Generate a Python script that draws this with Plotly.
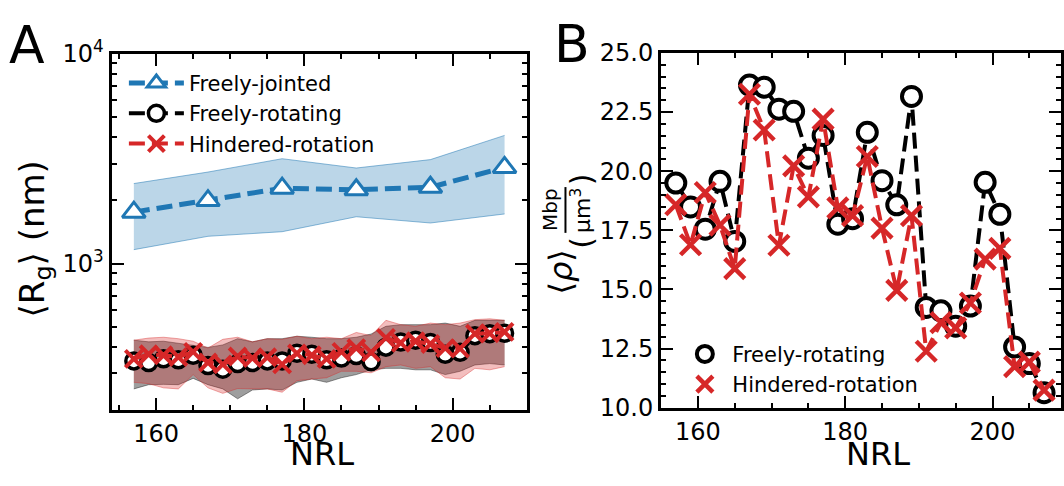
import math
import plotly.graph_objects as go

# ---------------- data ----------------
nrl_fj = [157, 167, 177, 187, 197, 207]
rg_fj = [1760, 1997, 2288, 2249, 2312, 2874]
rg_fj_hi = [2408, 2732, 3162, 2855, 3131, 4083]
rg_fj_lo = [1166, 1350, 1420, 1673, 1562, 1725]

nrl = [157, 159, 161, 163, 165, 167, 169, 171, 173, 175, 177, 179, 181,
       183, 185, 187, 189, 191, 193, 195, 197, 199, 201, 203, 205, 207]

rg_fr = [344, 338, 352, 348, 366, 327, 314, 334, 338, 344, 344, 374, 370,
         348, 355, 365, 341, 400, 423, 432, 421, 370, 378, 454, 464, 466]
rg_fr_hi = [432, 424, 427, 417, 410, 399, 410, 439, 424, 439, 439, 451, 446,
            439, 439, 446, 462, 503, 512, 512, 512, 521, 503, 537, 537, 537]
rg_fr_lo = [253, 265, 266, 265, 284, 265, 253, 227, 250, 253, 250, 272, 282,
            272, 286, 296, 312, 317, 317, 312, 312, 296, 307, 329, 334, 329]

rg_hr = [352, 370, 366, 359, 380, 338, 331, 361, 355, 358, 331, 374, 366,
         352, 380, 396, 378, 443, 419, 427, 414, 396, 394, 464, 466, 473]
rg_hr_hi = [432, 442, 446, 439, 427, 396, 436, 446, 424, 439, 436, 451, 439,
            446, 439, 470, 454, 537, 512, 503, 521, 512, 521, 541, 546, 537]
rg_hr_lo = [272, 268, 256, 253, 296, 256, 241, 254, 253, 253, 244, 277, 282,
            286, 307, 307, 302, 323, 329, 317, 323, 286, 282, 317, 312, 323]

rho_fr = [19.50, 18.49, 17.55, 19.57, 17.03, 23.64, 23.55, 22.62, 22.53, 20.55,
          21.51, 17.76, 17.99, 21.64, 19.60, 18.58, 23.16, 14.24, 14.10, 13.45,
          14.30, 19.53, 18.18, 12.57, 11.87, 10.64]
rho_hr = [18.58, 16.89, 19.10, 17.72, 15.88, 23.25, 21.74, 16.87, 20.22, 18.91,
          22.20, 18.45, 18.12, 20.62, 17.59, 14.96, 18.12, 12.39, 13.60, 13.38,
          14.43, 16.28, 16.74, 11.74, 11.93, 10.75]

x_ticks = [160, 180, 200]
rg_ticks = [1000, 10000]
rg_ticktext = ["10<sup>3</sup>", "10<sup>4</sup>"]
rg_minor = [200, 300, 400, 500, 600, 700, 800, 900,
            2000, 3000, 4000, 5000, 6000, 7000, 8000, 9000]

# ---------------- style ----------------
FONT = "DejaVu Sans"
BLUE = "#1f77b4"
RED = "#d62728"
BLACK = "#000000"
W, H = 1064, 486


def px(xp):
    return xp / W


def py(yp):
    return 1 - yp / H


fig = go.Figure()


def band(x, lo, hi, fill, edge, xa, ya):
    fig.add_trace(go.Scatter(x=x, y=hi, mode="lines", line=dict(color=edge, width=1),
                             showlegend=False, hoverinfo="skip", xaxis=xa, yaxis=ya))
    fig.add_trace(go.Scatter(x=x, y=lo, mode="lines", line=dict(color=edge, width=1),
                             fill="tonexty", fillcolor=fill,
                             showlegend=False, hoverinfo="skip", xaxis=xa, yaxis=ya))


DASH = "16px,7px"

# Panel A
band(nrl_fj, rg_fj_lo, rg_fj_hi, "rgba(31,119,180,0.3)", "rgba(31,119,180,0.5)", "x", "y")
fig.add_trace(go.Scatter(x=nrl_fj, y=rg_fj, mode="lines+markers", name="Freely-jointed",
                         line=dict(color=BLUE, width=5, dash=DASH),
                         marker=dict(symbol="triangle-up", size=20, color="white",
                                     line=dict(color=BLUE, width=3)),
                         xaxis="x", yaxis="y", legend="legend"))
band(nrl, rg_fr_lo, rg_fr_hi, "rgba(0,0,0,0.38)", "rgba(0,0,0,0.4)", "x", "y")
band(nrl, rg_hr_lo, rg_hr_hi, "rgba(214,39,40,0.3)", "rgba(214,39,40,0.4)", "x", "y")
fig.add_trace(go.Scatter(x=nrl, y=rg_fr, mode="lines+markers", name="Freely-rotating",
                         line=dict(color=BLACK, width=4, dash=DASH),
                         marker=dict(symbol="circle", size=16, color="white",
                                     line=dict(color=BLACK, width=3.5)),
                         xaxis="x", yaxis="y", legend="legend"))
fig.add_trace(go.Scatter(x=nrl, y=rg_hr, mode="lines+markers", name="Hindered-rotation",
                         line=dict(color=RED, width=4, dash=DASH),
                         marker=dict(symbol="x-thin", size=17, color=RED,
                                     line=dict(color=RED, width=4)),
                         xaxis="x", yaxis="y", legend="legend"))

# Panel B
fig.add_trace(go.Scatter(x=nrl, y=rho_fr, mode="lines+markers", showlegend=False,
                         line=dict(color=BLACK, width=4, dash=DASH),
                         marker=dict(symbol="circle", size=19, color="white",
                                     line=dict(color=BLACK, width=4)),
                         xaxis="x2", yaxis="y2"))
fig.add_trace(go.Scatter(x=nrl, y=rho_hr, mode="lines+markers", showlegend=False,
                         line=dict(color=RED, width=4, dash=DASH),
                         marker=dict(symbol="x-thin", size=20, color=RED,
                                     line=dict(color=RED, width=4.5)),
                         xaxis="x2", yaxis="y2"))
fig.add_trace(go.Scatter(x=[None], y=[None], mode="markers", name="Freely-rotating",
                         marker=dict(symbol="circle", size=16, color="white",
                                     line=dict(color=BLACK, width=4)),
                         xaxis="x2", yaxis="y2", legend="legend2"))
fig.add_trace(go.Scatter(x=[None], y=[None], mode="markers", name="Hindered-rotation",
                         marker=dict(symbol="x-thin", size=16, color=RED,
                                     line=dict(color=RED, width=4.5)),
                         xaxis="x2", yaxis="y2", legend="legend2"))

axis_common = dict(showline=True, linecolor="black", linewidth=3, mirror="allticks",
                   ticks="inside", ticklen=12, tickwidth=2, tickcolor="black",
                   showgrid=False, zeroline=False,
                   tickfont=dict(family=FONT, size=24, color="black"))
minor_common = dict(ticks="inside", ticklen=5, tickwidth=2, tickcolor="black", showgrid=False)

fig.update_layout(
    width=W, height=H, margin=dict(l=0, r=0, t=0, b=0),
    paper_bgcolor="white", plot_bgcolor="white",
    font=dict(family=FONT, color="black"),
    xaxis=dict(domain=[px(111.7), px(527.3)], range=[154, 210], anchor="y",
               tickmode="array", tickvals=x_ticks,
               minor=dict(dtick=5, tick0=155, **minor_common), **axis_common),
    yaxis=dict(domain=[py(420), py(38.3)], type="log", range=[math.log10(200), 4],
               anchor="x", tickmode="array", tickvals=rg_ticks, ticktext=rg_ticktext,
               minor=dict(tickmode="array", tickvals=rg_minor, **minor_common),
               **axis_common),
    xaxis2=dict(domain=[px(661.7), px(1062)], range=[155, 209.3], anchor="y2",
                tickmode="array", tickvals=x_ticks,
                minor=dict(dtick=5, tick0=155, **minor_common), **axis_common),
    yaxis2=dict(domain=[py(417.3), py(37.3)], range=[10, 25], anchor="x2",
                tick0=10, dtick=2.5, tickformat=".1f",
                minor=dict(dtick=0.5, tick0=10, **minor_common), **axis_common),
    legend=dict(x=px(124), y=py(48), xanchor="left", yanchor="top",
                traceorder="normal",
                bgcolor="rgba(0,0,0,0)", font=dict(family=FONT, size=21),
                itemwidth=55),
    legend2=dict(x=px(678), y=py(338), xanchor="left", yanchor="top",
                 traceorder="normal",
                 bgcolor="rgba(0,0,0,0)", font=dict(family=FONT, size=21),
                 itemwidth=45),
    showlegend=True,
)

ann = []
ann.append(dict(text="A", x=px(27.5), y=py(29), font=dict(size=52)))
ann.append(dict(text="B", x=px(573), y=py(27.5), font=dict(size=52)))
ann.append(dict(text="NRL", x=px(322.5), y=py(467), font=dict(size=32)))
ann.append(dict(text="NRL", x=px(879), y=py(467), font=dict(size=32)))
ann.append(dict(text="⟨R<sub>g</sub>⟩ (nm)", x=px(34), y=py(236), textangle=-90,
                font=dict(size=34)))
ann.append(dict(text="⟨<i>ρ</i>⟩", x=px(562), y=py(272), textangle=-90, font=dict(size=32)))
ann.append(dict(text="(", x=px(582), y=py(240), textangle=-90, font=dict(size=30)))
ann.append(dict(text=")", x=px(582), y=py(172), textangle=-90, font=dict(size=30)))
ann.append(dict(text="Mbp", x=px(550), y=py(205), textangle=-90, font=dict(size=20)))
ann.append(dict(text="μm<sup>3</sup>", x=px(582), y=py(206), textangle=-90, font=dict(size=22)))
for a in ann:
    a.update(xref="paper", yref="paper", xanchor="center", yanchor="middle",
             showarrow=False)
    a["font"].update(family=FONT, color="black")
fig.update_layout(annotations=ann)
fig.add_shape(type="line", xref="paper", yref="paper", x0=px(566), x1=px(566),
              y0=py(181), y1=py(230), line=dict(color="black", width=2))

fig.write_html("out.html")
